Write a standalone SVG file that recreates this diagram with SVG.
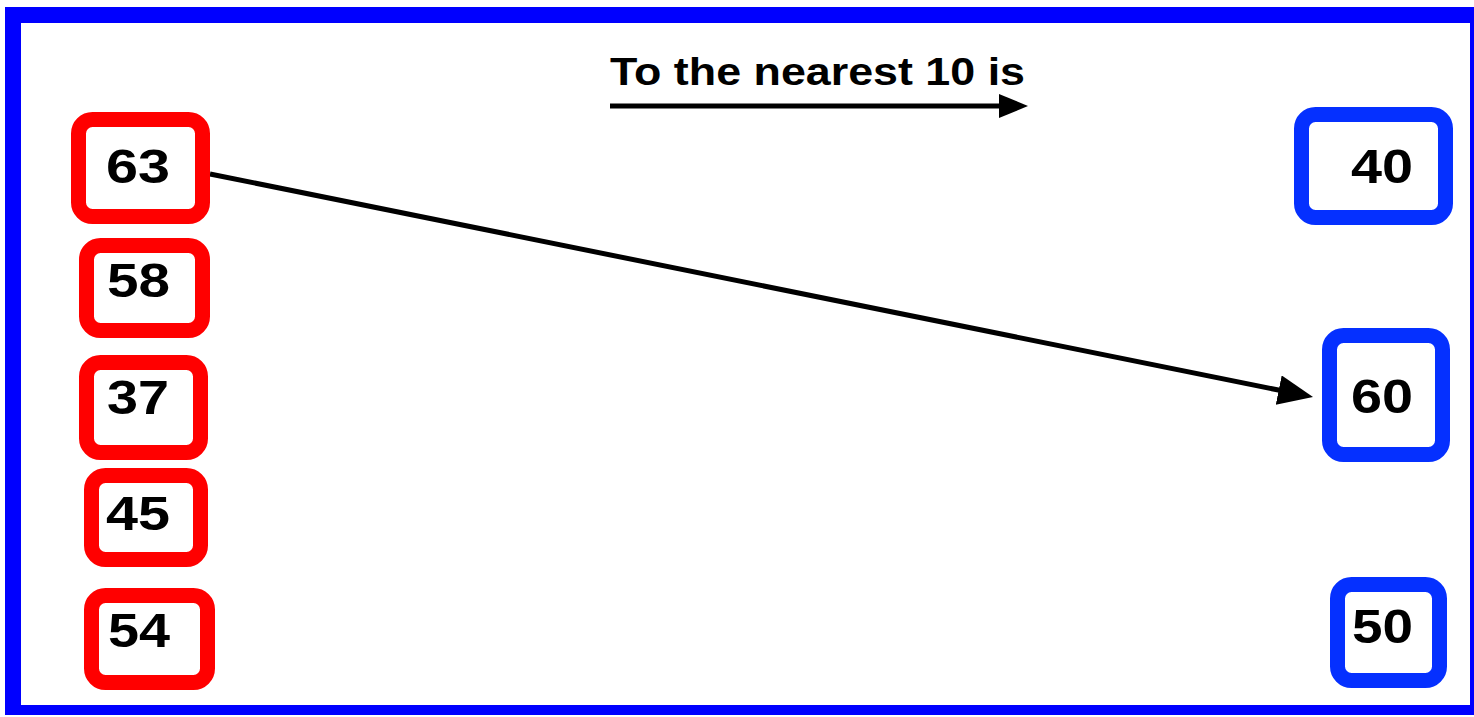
<svg xmlns="http://www.w3.org/2000/svg" width="1474" height="717" viewBox="0 0 1474 717">
<defs>
<style>
.red{fill:#fff;stroke:#ff0000;stroke-width:15}
.blue{fill:#fff;stroke:#0530ff;stroke-width:15}
.num{font-family:"Liberation Sans",Arial,sans-serif;font-weight:bold;font-size:48px;fill:#000}
.title{font-family:"Liberation Sans",Arial,sans-serif;font-weight:bold;font-size:39px;fill:#000}
.conn{stroke:#000;stroke-width:5;fill:none}
</style>
<marker id="ah" markerUnits="userSpaceOnUse" markerWidth="36" markerHeight="32" refX="1" refY="15" orient="auto">
<path d="M0,0 L35,15 L0,30 z" fill="#000"/>
</marker>
<marker id="ah2" markerUnits="userSpaceOnUse" markerWidth="30" markerHeight="26" refX="1" refY="12" orient="auto">
<path d="M0,0 L29,12 L0,24 z" fill="#000"/>
</marker>
</defs>
<rect width="1474" height="717" fill="#fff"/>
<path d="M5,7 H1474 V715 H5 Z M21,23 V705 H1470 V23 Z" fill="#0000ff" fill-rule="evenodd"/>
<g id="title">
<text class="title" x="610" y="85" textLength="415" lengthAdjust="spacingAndGlyphs">To the nearest 10 is</text>
</g>
<g id="connectors">
<line class="conn" x1="610" y1="106" x2="1000" y2="106" marker-end="url(#ah2)"/>
<line class="conn" x1="210" y1="174" x2="1279.7" y2="390.3" marker-end="url(#ah)"/>
</g>
<g id="n63"><rect class="red" x="78.5" y="119.5" width="124" height="97" rx="14"/><text class="num" x="106" y="183" textLength="64" lengthAdjust="spacingAndGlyphs">63</text></g>
<g id="n58"><rect class="red" x="86.5" y="245.5" width="116" height="85" rx="14"/><text class="num" x="107" y="297" textLength="63" lengthAdjust="spacingAndGlyphs">58</text></g>
<g id="n37"><rect class="red" x="86.5" y="362.5" width="114" height="90" rx="14"/><text class="num" x="107" y="414" textLength="62" lengthAdjust="spacingAndGlyphs">37</text></g>
<g id="n45"><rect class="red" x="91.5" y="475.5" width="109" height="84" rx="14"/><text class="num" x="106" y="530" textLength="64" lengthAdjust="spacingAndGlyphs">45</text></g>
<g id="n54"><rect class="red" x="91.5" y="595.5" width="116" height="87" rx="14"/><text class="num" x="108" y="647" textLength="62" lengthAdjust="spacingAndGlyphs">54</text></g>
<g id="n40"><rect class="blue" x="1301.5" y="114.5" width="144" height="103" rx="14"/><text class="num" x="1351" y="183" textLength="62" lengthAdjust="spacingAndGlyphs">40</text></g>
<g id="n60"><rect class="blue" x="1329.5" y="335.5" width="113" height="119" rx="14"/><text class="num" x="1351" y="413" textLength="62" lengthAdjust="spacingAndGlyphs">60</text></g>
<g id="n50"><rect class="blue" x="1337.5" y="584.5" width="102" height="96" rx="14"/><text class="num" x="1352" y="643" textLength="61" lengthAdjust="spacingAndGlyphs">50</text></g>
</svg>
